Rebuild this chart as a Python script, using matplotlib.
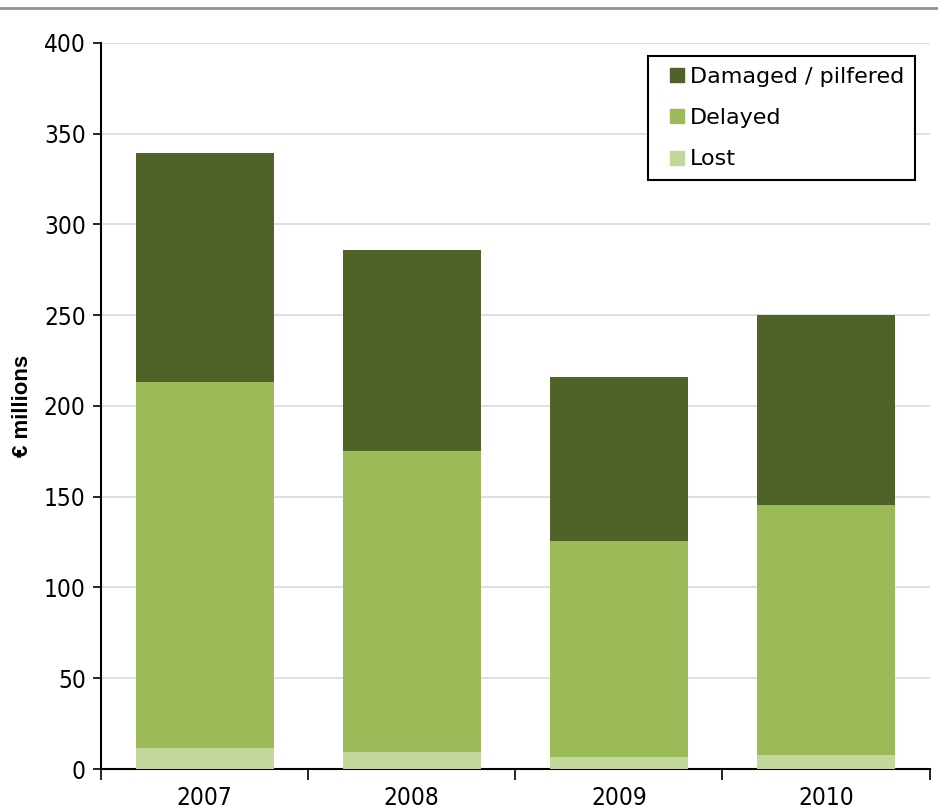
import numpy as np
import matplotlib.pyplot as plt
from matplotlib.lines import Line2D

# claims value by year, EUR millions
years = ['2007', '2008', '2009', '2010']
lost = [11.6, 9.4, 6.8, 7.9]
delayed = [201.6, 165.8, 118.8, 137.6]
damaged = [126.2, 110.8, 90.4, 104.5]

c_dark = '#4f6228'
c_mid = '#9bbb59'
c_light = '#c3d69b'

fig = plt.figure(figsize=(9.38, 8.10), dpi=100)
ax = fig.add_axes([0.1077, 0.0506, 0.8833, 0.8964])

x = np.arange(len(years))
w = 0.667
lost = np.array(lost)
delayed = np.array(delayed)
damaged = np.array(damaged)

ax.bar(x, lost, w, color=c_light, zorder=3)
ax.bar(x, delayed, w, bottom=lost, color=c_mid, zorder=3)
ax.bar(x, damaged, w, bottom=lost + delayed, color=c_dark, zorder=3)

ax.set_xlim(-0.5, 3.5)
ax.set_ylim(0, 400)
ax.set_yticks(np.arange(0, 401, 50))
ax.yaxis.grid(True, color='#d9d9d9', linewidth=1.2, zorder=0)
ax.set_axisbelow(True)

# ticks at category boundaries, labels centred under bars
ax.set_xticks(np.arange(-0.5, 4, 1))
ax.set_xticklabels([])
ax.set_xticks(x, minor=True)
ax.set_xticklabels(years, minor=True)
ax.tick_params(axis='x', which='major', length=8, width=1.2, direction='out')
ax.tick_params(axis='x', which='minor', length=0, pad=12)
ax.tick_params(axis='y', length=6, width=1.2, direction='out', pad=5)
ax.tick_params(axis='both', which='both', labelsize=17.5)
for lab in ax.get_yticklabels() + ax.get_xticklabels(minor=True):
    lab.set_fontstretch('condensed')

for s in ['top', 'right']:
    ax.spines[s].set_visible(False)
ax.spines['left'].set_linewidth(1.5)
ax.spines['bottom'].set_linewidth(1.5)

ax.set_ylabel('€ millions', fontsize=16, fontweight='bold',
              family='Liberation Sans')
ax.yaxis.set_label_coords(-0.082, 0.5)

# square legend keys, top entry first
names = ['Damaged / pilfered', 'Delayed', 'Lost']
cols = [c_dark, c_mid, c_light]
keys = [Line2D([], [], linestyle='none', marker='s', markersize=9.5,
               markerfacecolor=c, markeredgecolor=c) for c in cols]
leg = ax.legend(keys, names, loc='upper right',
                bbox_to_anchor=(0.983, 0.982), fancybox=False,
                edgecolor='black', framealpha=1, handlelength=1.6,
                handletextpad=-0.2, labelspacing=0.95,
                borderpad=0.5, borderaxespad=0,
                prop=dict(family='DejaVu Sans', size=16))
leg.get_frame().set_linewidth(1.5)

# thin grey rule across the top of the figure
fig.add_artist(Line2D([0, 1], [0.99, 0.99], color='#909090', linewidth=2,
                      transform=fig.transFigure))

plt.savefig('out.png', dpi=100)
